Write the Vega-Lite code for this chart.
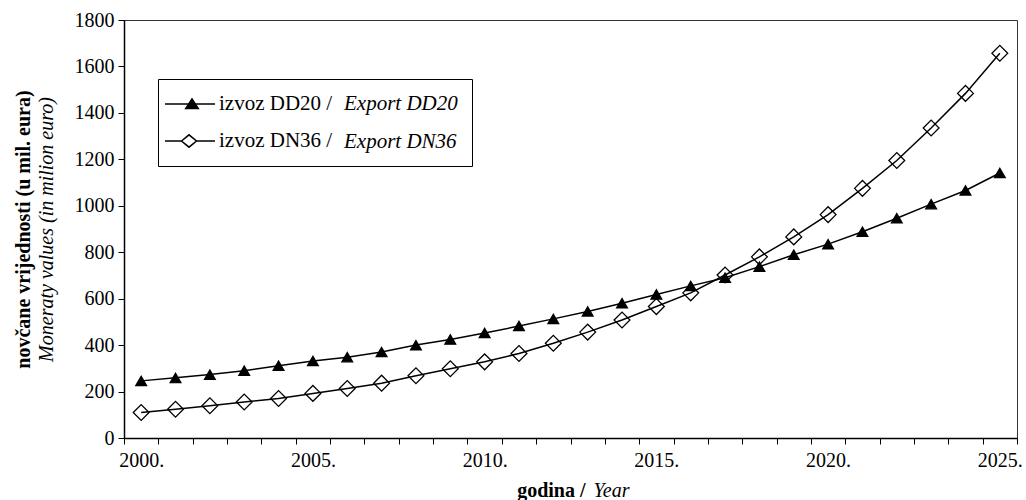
{
  "$schema": "https://vega.github.io/schema/vega-lite/v6.json",
  "width": 893,
  "height": 418,
  "autosize": {"type": "none"},
  "padding": {"left": 124, "top": 20, "right": 9, "bottom": 62},
  "background": "white",
  "config": {
    "font": "Liberation Serif",
    "view": {"stroke": "#333333", "strokeWidth": 1},
    "axis": {"grid": false, "labelColor": "black", "titleColor": "black", "domainColor": "black", "tickColor": "black"}
  },
  "data": {
    "values": [
      {"year": 2000, "value": 246, "s1": "izvoz DD20 /", "s2": "Export DD20"},
      {"year": 2001, "value": 259, "s1": "izvoz DD20 /", "s2": "Export DD20"},
      {"year": 2002, "value": 273, "s1": "izvoz DD20 /", "s2": "Export DD20"},
      {"year": 2003, "value": 290, "s1": "izvoz DD20 /", "s2": "Export DD20"},
      {"year": 2004, "value": 311, "s1": "izvoz DD20 /", "s2": "Export DD20"},
      {"year": 2005, "value": 332, "s1": "izvoz DD20 /", "s2": "Export DD20"},
      {"year": 2006, "value": 348, "s1": "izvoz DD20 /", "s2": "Export DD20"},
      {"year": 2007, "value": 370, "s1": "izvoz DD20 /", "s2": "Export DD20"},
      {"year": 2008, "value": 400, "s1": "izvoz DD20 /", "s2": "Export DD20"},
      {"year": 2009, "value": 424, "s1": "izvoz DD20 /", "s2": "Export DD20"},
      {"year": 2010, "value": 452, "s1": "izvoz DD20 /", "s2": "Export DD20"},
      {"year": 2011, "value": 482, "s1": "izvoz DD20 /", "s2": "Export DD20"},
      {"year": 2012, "value": 513, "s1": "izvoz DD20 /", "s2": "Export DD20"},
      {"year": 2013, "value": 545, "s1": "izvoz DD20 /", "s2": "Export DD20"},
      {"year": 2014, "value": 580, "s1": "izvoz DD20 /", "s2": "Export DD20"},
      {"year": 2015, "value": 618, "s1": "izvoz DD20 /", "s2": "Export DD20"},
      {"year": 2016, "value": 655, "s1": "izvoz DD20 /", "s2": "Export DD20"},
      {"year": 2017, "value": 690, "s1": "izvoz DD20 /", "s2": "Export DD20"},
      {"year": 2018, "value": 738, "s1": "izvoz DD20 /", "s2": "Export DD20"},
      {"year": 2019, "value": 789, "s1": "izvoz DD20 /", "s2": "Export DD20"},
      {"year": 2020, "value": 835, "s1": "izvoz DD20 /", "s2": "Export DD20"},
      {"year": 2021, "value": 888, "s1": "izvoz DD20 /", "s2": "Export DD20"},
      {"year": 2022, "value": 946, "s1": "izvoz DD20 /", "s2": "Export DD20"},
      {"year": 2023, "value": 1007, "s1": "izvoz DD20 /", "s2": "Export DD20"},
      {"year": 2024, "value": 1066, "s1": "izvoz DD20 /", "s2": "Export DD20"},
      {"year": 2025, "value": 1141, "s1": "izvoz DD20 /", "s2": "Export DD20"},
      {"year": 2000, "value": 110, "s1": "izvoz DN36 /", "s2": "Export DN36"},
      {"year": 2001, "value": 124, "s1": "izvoz DN36 /", "s2": "Export DN36"},
      {"year": 2002, "value": 139, "s1": "izvoz DN36 /", "s2": "Export DN36"},
      {"year": 2003, "value": 155, "s1": "izvoz DN36 /", "s2": "Export DN36"},
      {"year": 2004, "value": 170, "s1": "izvoz DN36 /", "s2": "Export DN36"},
      {"year": 2005, "value": 192, "s1": "izvoz DN36 /", "s2": "Export DN36"},
      {"year": 2006, "value": 213, "s1": "izvoz DN36 /", "s2": "Export DN36"},
      {"year": 2007, "value": 236, "s1": "izvoz DN36 /", "s2": "Export DN36"},
      {"year": 2008, "value": 268, "s1": "izvoz DN36 /", "s2": "Export DN36"},
      {"year": 2009, "value": 298, "s1": "izvoz DN36 /", "s2": "Export DN36"},
      {"year": 2010, "value": 328, "s1": "izvoz DN36 /", "s2": "Export DN36"},
      {"year": 2011, "value": 364, "s1": "izvoz DN36 /", "s2": "Export DN36"},
      {"year": 2012, "value": 408, "s1": "izvoz DN36 /", "s2": "Export DN36"},
      {"year": 2013, "value": 456, "s1": "izvoz DN36 /", "s2": "Export DN36"},
      {"year": 2014, "value": 508, "s1": "izvoz DN36 /", "s2": "Export DN36"},
      {"year": 2015, "value": 566, "s1": "izvoz DN36 /", "s2": "Export DN36"},
      {"year": 2016, "value": 625, "s1": "izvoz DN36 /", "s2": "Export DN36"},
      {"year": 2017, "value": 702, "s1": "izvoz DN36 /", "s2": "Export DN36"},
      {"year": 2018, "value": 780, "s1": "izvoz DN36 /", "s2": "Export DN36"},
      {"year": 2019, "value": 866, "s1": "izvoz DN36 /", "s2": "Export DN36"},
      {"year": 2020, "value": 962, "s1": "izvoz DN36 /", "s2": "Export DN36"},
      {"year": 2021, "value": 1075, "s1": "izvoz DN36 /", "s2": "Export DN36"},
      {"year": 2022, "value": 1195, "s1": "izvoz DN36 /", "s2": "Export DN36"},
      {"year": 2023, "value": 1335, "s1": "izvoz DN36 /", "s2": "Export DN36"},
      {"year": 2024, "value": 1484, "s1": "izvoz DN36 /", "s2": "Export DN36"},
      {"year": 2025, "value": 1657, "s1": "izvoz DN36 /", "s2": "Export DN36"}
    ]
  },
  "resolve": {"scale": {"x": "independent", "y": "independent"}, "axis": {"x": "independent", "y": "independent"}},
  "layer": [
    {
      "mark": {"type": "line", "strokeWidth": 1.5},
      "encoding": {
        "x": {
          "field": "year", "type": "ordinal", "bandPosition": 0.5,
          "scale": {"type": "band", "paddingInner": 0, "paddingOuter": 0},
          "axis": {
            "orient": "bottom", "tickBand": "extent", "tickSize": 6, "domainWidth": 1.5, "tickWidth": 1,
            "labelExpr": "datum.value % 5 === 0 ? datum.value + '.' : ''",
            "labelAngle": 0, "labelFontSize": 20, "labelPadding": 6, "labelOverlap": false,
            "title": "godina /", "titleFontSize": 20, "titleFontWeight": "bold",
            "titleAlign": "right", "titleX": 461, "titleY": 58, "titleBaseline": "alphabetic"
          }
        },
        "y": {
          "field": "value", "type": "quantitative",
          "scale": {"domain": [0, 1800], "nice": false},
          "axis": {
            "orient": "left", "values": [0, 200, 400, 600, 800, 1000, 1200, 1400, 1600, 1800], "format": "d",
            "tickSize": 6, "domainWidth": 1.5, "labelFontSize": 20, "labelPadding": 4,
            "title": "novčane vrijednosti (u mil. eura)", "titleFontSize": 20, "titleFontWeight": "bold",
            "titleX": -101, "titleBaseline": "middle"
          }
        },
        "color": {
          "field": "s2", "type": "nominal",
          "scale": {"range": ["black", "black"]},
          "legend": {
            "orient": "none", "legendX": 34, "legendY": 59, "title": null,
            "padding": 14, "rowPadding": 16, "strokeColor": "black",
            "symbolSize": 100, "symbolOpacity": 0, "labelOffset": 151,
            "labelFont": "Liberation Serif", "labelFontSize": 21, "labelFontStyle": "italic", "labelColor": "black", "labelLimit": 400
          }
        }
      }
    },
    {
      "mark": {"type": "point", "filled": true, "stroke": "black", "strokeWidth": 1.3, "opacity": 1},
      "encoding": {
        "x": {
          "field": "year", "type": "ordinal", "bandPosition": 0.5,
          "scale": {"type": "band", "paddingInner": 0, "paddingOuter": 0},
          "axis": {
            "orient": "bottom", "domain": false, "ticks": false, "labels": false,
            "title": "Year", "titleFontSize": 20, "titleFontStyle": "italic", "titleFontWeight": "normal",
            "titleAlign": "left", "titleX": 469, "titleY": 58, "titleBaseline": "alphabetic"
          }
        },
        "y": {
          "field": "value", "type": "quantitative",
          "scale": {"domain": [0, 1800], "nice": false},
          "axis": {
            "orient": "left", "domain": false, "ticks": false, "labels": false,
            "title": "Moneraty values (in milion euro)", "titleFontSize": 20, "titleFontStyle": "italic", "titleFontWeight": "normal",
            "titleX": -78, "titleBaseline": "middle"
          }
        },
        "shape": {
          "condition": {"test": "datum.s1 === 'izvoz DD20 /'", "value": "triangle-up"},
          "value": "diamond"
        },
        "fill": {
          "condition": {"test": "datum.s1 === 'izvoz DD20 /'", "value": "black"},
          "value": "transparent"
        },
        "size": {
          "condition": {"test": "datum.s1 === 'izvoz DD20 /'", "value": 115},
          "value": 250
        }
      }
    },
    {
      "mark": {"type": "point", "filled": true, "strokeWidth": 1.5, "opacity": 0},
      "encoding": {
        "shape": {
          "field": "s1", "type": "nominal",
          "scale": {"range": ["M-2.5,0H2.5M0.2,-0.52L0.83,0.45L-0.43,0.45Z", "M-2.5,0H-0.85M0.65,0H2.5M-0.85,0L-0.1,-0.62L0.65,0L-0.1,0.62Z"]},
          "legend": {
            "orient": "none", "legendX": 55, "legendY": 73, "title": null,
            "padding": 0, "rowPadding": 16, "symbolSize": 400, "labelOffset": 18,
            "symbolOpacity": 1, "symbolStrokeWidth": 1.5,
            "labelFont": "Liberation Serif", "labelFontSize": 21, "labelColor": "black", "labelLimit": 400
          }
        },
        "fill": {
          "field": "s1", "type": "nominal",
          "scale": {"range": ["black", "white"]},
          "legend": {
            "orient": "none", "legendX": 55, "legendY": 73, "title": null,
            "padding": 0, "rowPadding": 16, "symbolSize": 400, "labelOffset": 18,
            "symbolOpacity": 1, "symbolStrokeWidth": 1.5,
            "labelFont": "Liberation Serif", "labelFontSize": 21, "labelColor": "black", "labelLimit": 400
          }
        },
        "stroke": {
          "field": "s1", "type": "nominal",
          "scale": {"range": ["black", "black"]},
          "legend": {
            "orient": "none", "legendX": 55, "legendY": 73, "title": null,
            "padding": 0, "rowPadding": 16, "symbolSize": 400, "labelOffset": 18,
            "symbolOpacity": 1, "symbolStrokeWidth": 1.5,
            "labelFont": "Liberation Serif", "labelFontSize": 21, "labelColor": "black", "labelLimit": 400
          }
        }
      }
    }
  ]
}
